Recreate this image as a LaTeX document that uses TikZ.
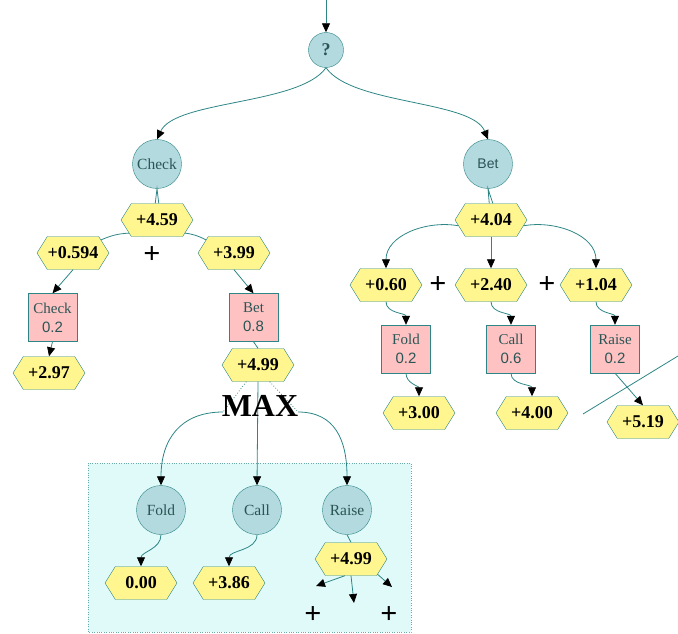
\documentclass[tikz,border=0pt]{standalone}
\usepackage{fontspec}
\setmainfont{Liberation Serif}
\setsansfont{Liberation Sans}
\usepackage{xcolor}
\definecolor{edgeTeal}{HTML}{2E8585}
\definecolor{nodeBlue}{HTML}{B3DADF}
\definecolor{valueYellow}{HTML}{FFF68F}
\definecolor{probPink}{HTML}{FFC2C2}
\definecolor{boxCyan}{HTML}{E0FAFA}
\definecolor{labelTeal}{HTML}{2A5555}
\usepackage{tikz}
\usetikzlibrary{arrows.meta,shapes.symbols}

\begin{document}
\begin{tikzpicture}[x=1pt,y=-1pt,
  choice/.style={circle,draw=edgeTeal,fill=nodeBlue,minimum size=49pt,inner sep=0pt,text=labelTeal,font=\fontsize{15.5}{18}\selectfont},
  value/.style={signal,signal to=east and west,signal pointer angle=116,draw=edgeTeal,fill=valueYellow,minimum width=72pt,minimum height=33pt,inner sep=0pt,font=\fontsize{18}{20}\selectfont\bfseries},
  prob/.style={rectangle,draw=edgeTeal,fill=probPink,minimum width=49pt,minimum height=48pt,inner sep=0pt,align=center,text=labelTeal,font=\fontsize{15}{19}\selectfont},
  sum/.style={font=\fontsize{30}{30}\selectfont\bfseries},
  edge/.style={draw=edgeTeal,line width=0.8pt},
  arr/.style={edge,-{Triangle[length=9pt,width=8pt,color=black]}}]
  \useasboundingbox (0,0) rectangle (678,634);
  % shaded region under the max step
  \draw[draw=edgeTeal!70,dotted,fill=boxCyan] (88,463) rectangle (411,632);

  % root and first choices
  \coordinate (start) at (326,0);
  \node[choice,minimum size=35pt,font=\fontsize{18}{20}\selectfont\bfseries] (q) at (326,50) {?};
  \node[choice] (chk) at (157,164) {Check};
  \node[choice,font=\sffamily\fontsize{14}{16}\selectfont] (bet) at (488,164) {Bet};

  % left branch
  \node[value] (h459) at (157,220) {+4.59};
  \node[value] (h0594) at (73,253) {+0.594};
  \node[value] (h399) at (234,253) {+3.99};
  \node[sum] (p1) at (152,255) {+};
  \node[prob] (chkr) at (52.5,317.5) {Check\\\sffamily 0.2};
  \node[prob] (betr) at (253.5,317.5) {Bet\\\sffamily 0.8};
  \node[value] (h297) at (49,373) {+2.97};
  \node[value] (h499) at (258,365) {+4.99};

  % max over the replies
  \coordinate (mxl) at (223,412);
  \coordinate (mxr) at (298,412);
  \node[choice] (fold) at (161,510) {Fold};
  \node[choice] (call) at (257,510) {Call};
  \node[choice] (raise) at (347,510) {Raise};
  \node[value] (h000) at (141,583) {0.00};
  \node[value] (h386) at (229,583) {+3.86};
  \node[value] (h499r) at (351,559) {+4.99};
  \coordinate (d1) at (316,586);
  \coordinate (d2) at (354,603);
  \coordinate (d3) at (392,587);
  \node[sum] (p4) at (313,615) {+};
  \node[sum] (p5) at (389,615) {+};

  % right branch
  \node[value] (h404) at (491,220) {+4.04};
  \node[value] (h060) at (386,285) {+0.60};
  \node[value] (h240) at (491,285) {+2.40};
  \node[value] (h104) at (596,285) {+1.04};
  \node[sum] (p2) at (438,285) {+};
  \node[sum] (p3) at (547,285) {+};
  \node[prob] (foldr) at (406,349) {Fold\\\sffamily 0.2};
  \node[prob] (callr) at (511,349) {Call\\\sffamily 0.6};
  \node[prob] (raiser) at (615,349) {Raise\\\sffamily 0.2};
  \node[value] (h300) at (419,413) {+3.00};
  \node[value] (h400) at (532,413) {+4.00};
  \node[value] (h519) at (643,422) {+5.19};
  \coordinate (cut1) at (583,414);
  \coordinate (cut2) at (678,356);

  % connectors
  \draw[arr] (start) -- (q);
  \draw[arr] (q.south) .. controls (300,105) and (175,100) .. (chk.north);
  \draw[arr] (q.south) .. controls (352,105) and (472,100) .. (bet.north);
  \draw[edge] (h459.96) -- (chk.south) -- (h459.84);
  \draw[edge] (h404.96) -- (bet.south) -- (h404.84);
  \draw[edge] (h459.205) to[bend right=10] (h0594.25);
  \draw[edge] (h459.335) to[bend left=10] (h399.155);
  \draw[arr] (h0594.south) -- (chkr.north);
  \draw[arr] (h399.south) -- (betr.north);
  \draw[arr] (chkr.south) -- (h297.north);
  \draw[edge] (betr.south) -- (h499.north);
  \draw[edge,dotted] (h499.235) -- (mxl);
  \draw[edge,dotted] (h499.305) -- (mxr);
  \draw[arr] (mxl) .. controls (180,412) and (161,440) .. (fold.north);
  \draw[arr] (h499.south) -- (call.north);
  \draw[arr] (mxr) .. controls (335,412) and (347,440) .. (raise.north);
  \draw[arr] (fold.south) to[out=-90,in=90] (h000.north);
  \draw[arr] (call.south) to[out=-90,in=90] (h386.north);
  \draw[edge] (raise.south) -- (h499r.north);
  \draw[arr] (h499r.250) -- (d1);
  \draw[arr] (h499r.south) -- (d2);
  \draw[arr] (h499r.330) -- (d3);
  \draw[arr] (h404.190) to[out=170,in=90] (h060.north);
  \draw[arr] (h404.south) -- (h240.north);
  \draw[arr] (h404.350) to[out=10,in=90] (h104.north);
  \draw[arr] (h060.south) to[out=-90,in=90] (foldr.north);
  \draw[arr] (h240.south) to[out=-90,in=90] (callr.north);
  \draw[arr] (h104.south) to[out=-90,in=90] (raiser.north);
  \draw[arr] (foldr.south) to[out=-90,in=90] (h300.north);
  \draw[arr] (callr.south) to[out=-90,in=90] (h400.north);
  \draw[arr] (raiser.south) -- (h519.north);
  \draw[edge] (cut1) -- (cut2);

  \node[font=\fontsize{32}{32}\selectfont\bfseries] (max) at (260,406) {MAX};
\end{tikzpicture}
\end{document}
